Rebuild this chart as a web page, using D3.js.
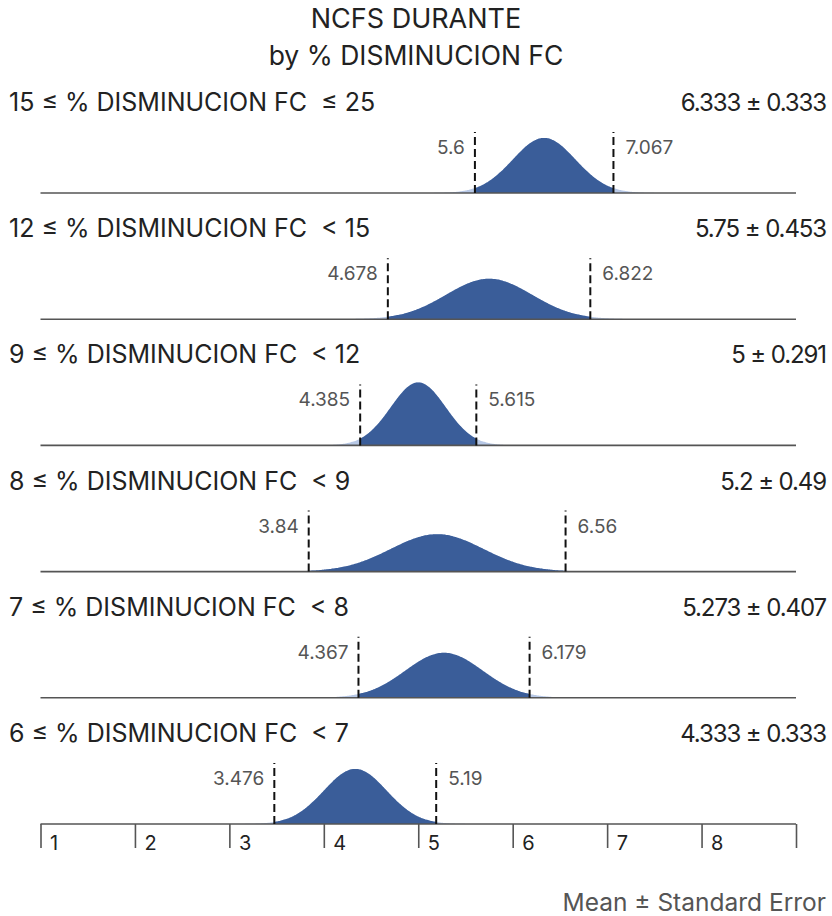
<!DOCTYPE html>
<html>
<head>
<meta charset="utf-8">
<script src="https://cdn.jsdelivr.net/npm/d3@7"></script>
<style>
  body { margin: 0; background: #fff; }
  text { font-family: Inter, Roboto, "Liberation Sans", sans-serif; white-space: pre; }
</style>
</head>
<body>
<svg id="chart" width="832" height="916"></svg>
<script>
// data
var groups = ['15 ≤ % DISMINUCION FC  ≤ 25', '12 ≤ % DISMINUCION FC  < 15', '9 ≤ % DISMINUCION FC  < 12',
              '8 ≤ % DISMINUCION FC  < 9', '7 ≤ % DISMINUCION FC  < 8', '6 ≤ % DISMINUCION FC  < 7'];
var means = [6.333, 5.75, 5, 5.2, 5.273, 4.333];
var stdErrs = [0.333, 0.453, 0.291, 0.49, 0.407, 0.333];
var ciLow = [5.6, 4.678, 4.385, 3.84, 4.367, 3.476];
var ciHigh = [7.067, 6.822, 5.615, 6.56, 6.179, 5.19];
var meanLabels = ['6.333 ± 0.333', '5.75 ± 0.453', '5 ± 0.291', '5.2 ± 0.49', '5.273 ± 0.407', '4.333 ± 0.333'];
var ciLowLabels = ['5.6', '4.678', '4.385', '3.84', '4.367', '3.476'];
var ciHighLabels = ['7.067', '6.822', '5.615', '6.56', '6.179', '5.19'];
var xTicks = [1, 2, 3, 4, 5, 6, 7, 8, 9];
var xTickLabels = ['1', '2', '3', '4', '5', '6', '7', '8', ''];

var svg = d3.select('#chart');
var x = d3.scaleLinear().domain([1, 9]).range([40.5, 796]);
var rowY = d3.scalePoint().domain(d3.range(groups.length)).range([193, 824]);

var pdf = function (v, m, s) {
    var z = (v - m) / s;
    return Math.exp(-0.5 * z * z) / (s * Math.sqrt(2 * Math.PI));
};
var maxPdf = d3.max(stdErrs, function (s) { return pdf(0, 0, s); });
var y = d3.scaleLinear().domain([0, maxPdf]).range([0, 63]);

// title
svg.append('text').attr('x', 416).attr('y', 28).attr('text-anchor', 'middle')
    .attr('font-size', 27).attr('fill', '#222').text('NCFS DURANTE');
svg.append('text').attr('x', 416).attr('y', 65).attr('text-anchor', 'middle')
    .attr('font-size', 26.5).attr('fill', '#222').text('by % DISMINUCION FC');

var row = svg.selectAll('g.row').data(groups).enter().append('g')
    .attr('class', 'row')
    .attr('transform', function (d, i) { return 'translate(0,' + rowY(i) + ')'; });

row.each(function (d, i) {
    var g = d3.select(this);
    var m = means[i], s = stdErrs[i];
    var area = d3.area()
        .x(function (v) { return x(v); })
        .y0(0)
        .y1(function (v) { return -y(pdf(v, m, s)); })
        .curve(d3.curveBasis);
    var full = d3.range(m - 4 * s, m + 4 * s + 1e-9, s / 40);
    var core = d3.range(ciLow[i], ciHigh[i], s / 40).concat([ciHigh[i]]);

    g.append('path').datum(full).attr('d', area).attr('fill', '#b7c8e6');
    g.append('path').datum(core).attr('d', area).attr('fill', '#3a5d99');

    // baseline
    g.append('line').attr('x1', x(1)).attr('x2', x(9)).attr('y1', 0).attr('y2', 0)
        .attr('stroke', '#555').attr('stroke-width', 1.6);

    // CI dashed lines
    [ciLow[i], ciHigh[i]].forEach(function (v) {
        g.append('line').attr('x1', x(v)).attr('x2', x(v)).attr('y1', 0).attr('y2', -61)
            .attr('stroke', '#111').attr('stroke-width', 2).attr('stroke-dasharray', '8,4');
    });
    g.append('text').attr('x', x(ciLow[i]) - 10).attr('y', -39).attr('text-anchor', 'end')
        .attr('font-size', 19).attr('fill', '#555').text(ciLowLabels[i]);
    g.append('text').attr('x', x(ciHigh[i]) + 12).attr('y', -39).attr('text-anchor', 'start')
        .attr('font-size', 19).attr('fill', '#555').text(ciHighLabels[i]);

    // group label + mean
    g.append('text').attr('x', 9).attr('y', -82).attr('font-size', 25).attr('fill', '#222').text(d);
    g.append('text').attr('x', 826).attr('y', -82).attr('text-anchor', 'end')
        .attr('font-size', 24).attr('letter-spacing', -1.1).attr('fill', '#222').text(meanLabels[i]);
});

// bottom axis
var axis = d3.axisBottom(x).tickValues(xTicks).tickSize(24)
    .tickFormat(function (d, i) { return xTickLabels[i]; });
var ax = svg.append('g').attr('transform', 'translate(0,824)').call(axis);
ax.select('.domain').remove();
ax.selectAll('.tick line').attr('stroke', '#555').attr('stroke-width', 1.6);
ax.selectAll('.tick text').attr('x', 9).attr('y', 12).attr('dy', '0.71em')
    .attr('text-anchor', 'start').attr('font-size', 20).attr('fill', '#222')
    .style('font-family', 'Inter, Roboto, sans-serif');

svg.append('text').attr('x', 826).attr('y', 911).attr('text-anchor', 'end')
    .attr('font-size', 24.5).attr('fill', '#555').text('Mean ± Standard Error');
</script>
</body>
</html>
